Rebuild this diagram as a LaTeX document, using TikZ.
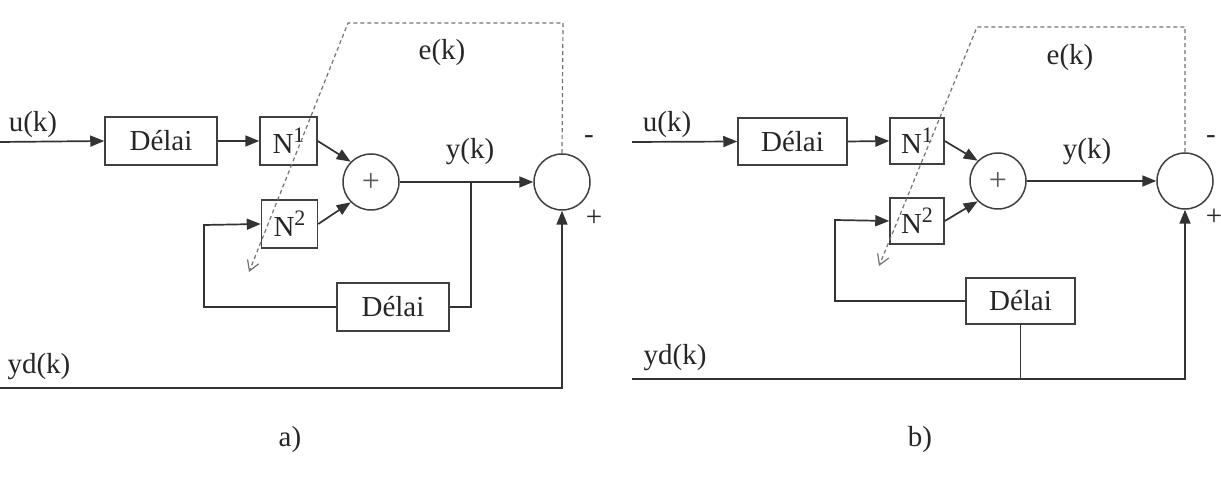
\documentclass[tikz,border=0pt]{standalone}
\usepackage{fontspec}
\setmainfont{Liberation Serif}
\usetikzlibrary{arrows.meta}
\newcommand{\supn}[1]{\raisebox{0.38em}{\fontsize{11}{11}\selectfont #1}}
\begin{document}
\begin{tikzpicture}[x=0.5pt,y=-0.5pt,
  ln/.style={line width=0.85pt, draw=black!80},
  arr/.style={ln,-{Triangle[length=7pt,width=5.5pt]}},
  blk/.style={draw=black!75,line width=0.75pt,rectangle,inner sep=0pt,text=black!85,font=\fontsize{14.5}{17}\selectfont},
  sumc/.style={draw=black!75,line width=0.75pt,circle,minimum size=28pt,inner sep=0pt,text=black!65,font=\fontsize{16}{18}\selectfont},
  lbl/.style={font=\fontsize{14.5}{17}\selectfont, text=black!85, inner sep=0pt},
  err/.style={draw=black!55, line width=0.6pt, dash pattern=on 2pt off 1.5pt},
  errarr/.style={err,-{Straight Barb[length=5pt,width=6pt]}},
]
\useasboundingbox (0,0) rectangle (1221,485);

% ---------------- a) ----------------
\node[blk,minimum width=56pt,minimum height=24pt] (d1a) at (161,141) {Délai};
\node[blk,minimum width=28.5pt,minimum height=24pt] (n1a) at (288.5,141) {N\supn{1}};
\node[blk,minimum width=28pt,minimum height=24pt] (n2a) at (289.5,224) {N\supn{2}};
\node[sumc] (sa) at (371,182) {+};
\node[sumc] (ra) at (562,182) {};
\node[blk,minimum width=56pt,minimum height=24pt] (d2a) at (393,307) {Délai};

\coordinate (ina) at (0,142);
\coordinate (yda) at (0,388);
\coordinate (ydca) at (562,388);
\coordinate (bra) at (471,182);
\coordinate (brba) at (471,307);
\coordinate (fba) at (204,307);
\coordinate (fbta) at (204,225);
\coordinate (e1a) at (563,23);
\coordinate (e2a) at (348,23);
\coordinate (e3a) at (249,272);

\node[lbl] (ua) at (33,125) {u(k)};
\node[lbl] (ydla) at (39,367) {yd(k)};
\node[lbl] (ea) at (442,53) {e(k)};
\node[lbl] (ya) at (470,152) {y(k)};
\node[lbl] (ma) at (589,140) {-};
\node[lbl] (pa) at (594,218) {+};
\node[lbl] (capa) at (290,440) {a)};

\draw[arr] (ina) -- (d1a.west);
\draw[arr] (d1a.east) -- (n1a.west);
\draw[arr] (n1a.east) -- (sa.135);
\draw[arr] (n2a.east) -- (sa.225);
\draw[arr] (sa.east) -- (ra.west);
\draw[ln] (bra) -- (brba) -- (d2a.east);
\draw[arr] (d2a.west) -- (fba) -- (fbta) -- (n2a.west);
\draw[arr] (yda) -- (ydca) -- (ra.south);
\draw[errarr] (ra.north) -- (e1a) -- (e2a) -- (e3a);

% ---------------- b) ----------------
\node[blk,minimum width=54.5pt,minimum height=23.5pt] (d1b) at (792.5,141.5) {Délai};
\node[blk,minimum width=27pt,minimum height=23pt] (n1b) at (917,141) {N\supn{1}};
\node[blk,minimum width=27pt,minimum height=23pt] (n2b) at (917,221) {N\supn{2}};
\node[sumc] (sb) at (998,181) {+};
\node[sumc] (rb) at (1185,181) {};
\node[blk,minimum width=54.5pt,minimum height=23pt] (d2b) at (1020.5,301) {Délai};

\coordinate (inb) at (632,142);
\coordinate (ydb) at (632,379);
\coordinate (ydcb) at (1185,379);
\coordinate (jb) at (d2b.south |- ydb);
\coordinate (fbb) at (835,301);
\coordinate (fbtb) at (835,220);
\coordinate (e1b) at (1185,27);
\coordinate (e2b) at (977,27);
\coordinate (e3b) at (879,266);

\node[lbl] (ub) at (667,125) {u(k)};
\node[lbl] (ydlb) at (675,358) {yd(k)};
\node[lbl] (eb) at (1070,58) {e(k)};
\node[lbl] (yb) at (1087,152) {y(k)};
\node[lbl] (mb) at (1211,140) {-};
\node[lbl] (pb) at (1214,217) {+};
\node[lbl] (capb) at (920,440) {b)};

\draw[arr] (inb) -- (d1b.west);
\draw[arr] (d1b.east) -- (n1b.west);
\draw[arr] (n1b.east) -- (sb.135);
\draw[arr] (n2b.east) -- (sb.225);
\draw[arr] (sb.east) -- (rb.west);
\draw[arr] (d2b.west) -- (fbb) -- (fbtb) -- (n2b.west);
\draw[ln] (d2b.south) -- (jb);
\draw[arr] (ydb) -- (ydcb) -- (rb.south);
\draw[errarr] (rb.north) -- (e1b) -- (e2b) -- (e3b);
\end{tikzpicture}
\end{document}
